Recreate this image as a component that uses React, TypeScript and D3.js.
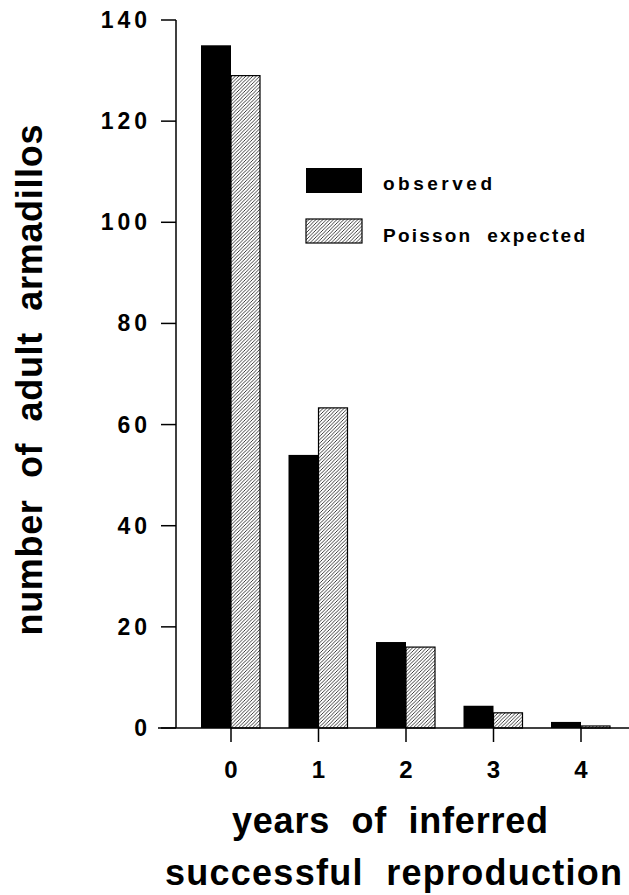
import React from 'react';
import * as d3 from 'd3';

const categories = ['0', '1', '2', '3', '4'];
const observed = [135, 54, 17, 4.4, 1.2];
const expected = [129, 63.3, 16, 3, 0.4];
const yTicks = [0, 20, 40, 60, 80, 100, 120, 140];

const FONT = '"Liberation Sans", Arial, Helvetica, sans-serif';

const App: React.FC = () => {
  const width = 629;
  const height = 895;

  const yScale = d3.scaleLinear().domain([0, 140]).range([728, 20]);
  const xScale = d3
    .scalePoint<string>()
    .domain(categories)
    .range([231, 581]);

  const barW = 30;
  const axisX = 176;
  const baseY = yScale(0);

  return (
    <svg
      width={width}
      height={height}
      style={{ position: 'absolute', left: 0, top: 0, background: '#fff' }}
      fontFamily={FONT}
      fontWeight="bold"
    >
      <defs>
        <pattern id="hatch" patternUnits="userSpaceOnUse" width={3.5} height={3.5}>
          <rect width={3.5} height={3.5} fill="#fff" />
          <path
            d="M-1,1 l2,-2 M0,3.5 l3.5,-3.5 M2.5,4.5 l2,-2"
            stroke="#000"
            strokeWidth={0.75}
          />
        </pattern>
      </defs>

      {/* bars */}
      {categories.map((c, i) => {
        const x = xScale(c) as number;
        return (
          <g key={c}>
            <rect
              x={x - barW}
              y={yScale(observed[i])}
              width={barW}
              height={baseY - yScale(observed[i])}
              fill="#000"
            />
            <rect
              x={x}
              y={yScale(expected[i])}
              width={barW - 1}
              height={baseY - yScale(expected[i])}
              fill="url(#hatch)"
              stroke="#000"
              strokeWidth={1.2}
            />
          </g>
        );
      })}

      {/* y axis */}
      <line x1={axisX} x2={axisX} y1={yScale(140)} y2={baseY} stroke="#000" strokeWidth={1.5} />
      {yTicks.map(t => (
        <g key={t}>
          <line x1={axisX - 15} x2={axisX} y1={yScale(t)} y2={yScale(t)} stroke="#000" strokeWidth={1.5} />
          <text
            x={151}
            y={yScale(t) + 8}
            textAnchor="end"
            fontSize={23}
            letterSpacing={4}
          >
            {t}
          </text>
        </g>
      ))}

      {/* x axis */}
      <line x1={158} x2={width} y1={baseY} y2={baseY} stroke="#000" strokeWidth={1.5} />
      {categories.map(c => (
        <g key={c}>
          <line
            x1={xScale(c) as number}
            x2={xScale(c) as number}
            y1={baseY}
            y2={baseY + 14}
            stroke="#000"
            strokeWidth={1.5}
          />
          <text x={xScale(c) as number} y={778} textAnchor="middle" fontSize={24}>
            {c}
          </text>
        </g>
      ))}

      {/* legend */}
      <rect x={306} y={168} width={56} height={25} fill="#000" />
      <text x={383} y={190} fontSize={19} textLength={109} lengthAdjust="spacing">
        observed
      </text>
      <rect x={306} y={219} width={56} height={24} fill="url(#hatch)" stroke="#000" strokeWidth={1.2} />
      <text x={383} y={242} fontSize={19} textLength={202} lengthAdjust="spacing" xmlSpace="preserve">
        Poisson  expected
      </text>

      {/* axis titles */}
      <text
        transform="translate(42,380) rotate(-90)"
        textAnchor="middle"
        fontSize={36}
        textLength={511}
        lengthAdjust="spacing"
        xmlSpace="preserve"
      >
        number  of  adult  armadillos
      </text>
      <text x={232} y={833} fontSize={36} textLength={316} lengthAdjust="spacing" xmlSpace="preserve">
        years  of  inferred
      </text>
      <text x={165} y={885} fontSize={36} textLength={457} lengthAdjust="spacing" xmlSpace="preserve">
        successful  reproduction
      </text>
    </svg>
  );
};

export default App;
